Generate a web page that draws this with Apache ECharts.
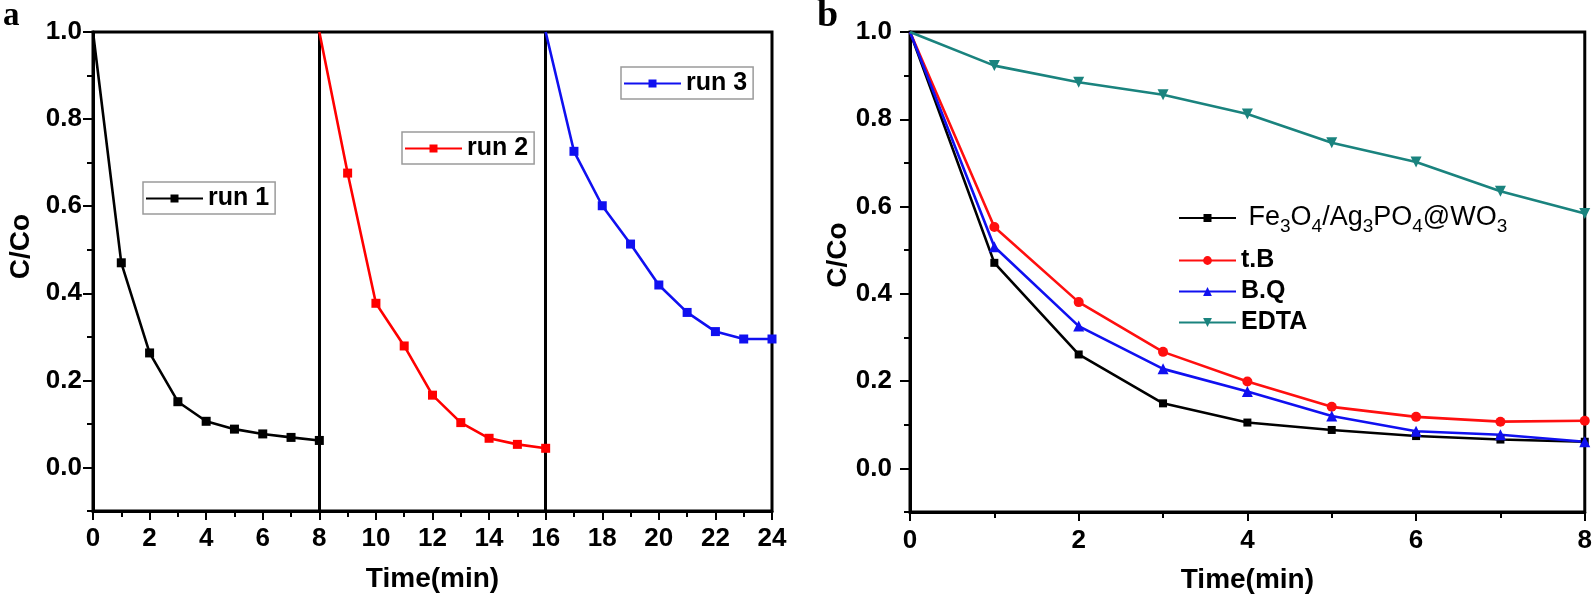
<!DOCTYPE html>
<html>
<head>
<meta charset="utf-8">
<script src="https://cdn.jsdelivr.net/npm/echarts@6/dist/echarts.min.js"></script>
<style>
  html, body { margin: 0; padding: 0; background: #fff; }
  #chart { width: 1595px; height: 602px; }
</style>
</head>
<body>
<div id="chart"></div>
<script>
// ---------- data (panel a: recycling runs) ----------
const run1Time = [0, 1, 2, 3, 4, 5, 6, 7, 8];
const run1 = [1.0, 0.470, 0.263, 0.151, 0.106, 0.088, 0.077, 0.069, 0.062];
const run2Time = [8, 9, 10, 11, 12, 13, 14, 15, 16];
const run2 = [1.0, 0.676, 0.377, 0.279, 0.166, 0.103, 0.067, 0.053, 0.044];
const run3Time = [16, 17, 18, 19, 20, 21, 22, 23, 24];
const run3 = [1.0, 0.726, 0.601, 0.513, 0.419, 0.356, 0.312, 0.295, 0.295];
const runBoundaries = [8, 16];

// ---------- data (panel b: scavengers) ----------
const timeB = [0, 1, 2, 3, 4, 5, 6, 7, 8];
const feAg = [1.0, 0.471, 0.261, 0.149, 0.105, 0.088, 0.074, 0.066, 0.061];
const tB   = [1.0, 0.553, 0.381, 0.267, 0.199, 0.141, 0.118, 0.107, 0.109];
const BQ   = [1.0, 0.508, 0.326, 0.228, 0.176, 0.120, 0.085, 0.077, 0.061];
const EDTA = [1.0, 0.923, 0.885, 0.856, 0.812, 0.746, 0.702, 0.635, 0.584];

// ---------- ticks ----------
const yMajor = [0, 0.2, 0.4, 0.6, 0.8, 1.0];
const yMinor = [-0.1, 0.1, 0.3, 0.5, 0.7, 0.9];

const FONT = 'Liberation Sans, Arial, sans-serif';
const pair = (xs, ys) => xs.map((x, i) => [x, ys[i]]);
const hideFirst = (size) => (v, p) => (p.dataIndex === 0 ? 0 : size);

function xAxisDef(gridIndex, max, interval, labelMargin) {
  return {
    gridIndex, type: 'value', min: 0, max, interval,
    name: 'Time(min)', nameLocation: 'middle', nameGap: 54,
    nameTextStyle: { fontFamily: FONT, fontWeight: 'bold', fontSize: 28, color: '#000' },
    axisLine: { show: true, onZero: false, lineStyle: { color: '#000', width: 3 } },
    axisTick: { show: true, length: 9, lineStyle: { color: '#000', width: 2 } },
    minorTick: { show: true, splitNumber: 2, length: 6, lineStyle: { color: '#000', width: 2 } },
    axisLabel: { fontFamily: FONT, fontWeight: 'bold', fontSize: 26, color: '#000', margin: labelMargin },
    splitLine: { show: false }, minorSplitLine: { show: false }
  };
}
function yAxisMain(gridIndex, labelMargin, namePad, nameGap) {
  return {
    gridIndex, type: 'value', min: -0.1, max: 1.0,
    name: 'C/Co', nameLocation: 'middle', nameGap,
    nameTextStyle: { fontFamily: FONT, fontWeight: 'bold', fontSize: 28, color: '#000', padding: [0, 0, 0, namePad] },
    axisLine: { show: true, onZero: false, lineStyle: { color: '#000', width: 3 } },
    axisTick: { show: true, length: 10, customValues: yMajor, lineStyle: { color: '#000', width: 2 } },
    axisLabel: { customValues: yMajor, fontFamily: FONT, fontWeight: 'bold', fontSize: 26, color: '#000', margin: labelMargin,
      formatter: v => v.toFixed(1) },
    splitLine: { show: false }
  };
}
function yAxisMinor(gridIndex) {
  return {
    gridIndex, type: 'value', min: -0.1, max: 1.0, position: 'left',
    axisLine: { show: false, onZero: false },
    axisTick: { show: true, length: 6, customValues: yMinor, lineStyle: { color: '#000', width: 2 } },
    axisLabel: { show: false },
    splitLine: { show: false }
  };
}

function runSeries(name, xs, ys, color, withBoundaries) {
  const s = {
    name, type: 'line', xAxisIndex: 0, yAxisIndex: 0,
    data: pair(xs, ys),
    symbol: 'rect', symbolSize: hideFirst(9),
    itemStyle: { color },
    lineStyle: { color, width: 2.6 },
    z: 5
  };
  if (withBoundaries) {
    s.markLine = {
      silent: true, symbol: ['none', 'none'], label: { show: false },
      lineStyle: { color: '#000', width: 3, type: 'solid' },
      data: runBoundaries.map(b => ({ xAxis: b }))
    };
  }
  return s;
}
function bSeries(name, ys, color, symbol, size, rotate) {
  return {
    name, type: 'line', xAxisIndex: 1, yAxisIndex: 2,
    data: pair(timeB, ys),
    symbol, symbolSize: hideFirst(size), symbolRotate: rotate || 0,
    itemStyle: { color },
    lineStyle: { color, width: 2.6 },
    z: 5
  };
}

const runLegendBase = {
  orient: 'horizontal', itemWidth: 57, itemHeight: 10,
  padding: [4, 6, 3, 2], borderColor: '#9a9a9a', borderWidth: 1.5,
  backgroundColor: '#fff',
  textStyle: { fontFamily: FONT, fontWeight: 'bold', fontSize: 25, color: '#000', lineHeight: 24 }
};

const chart = echarts.init(document.getElementById('chart'), null, { renderer: 'canvas' });
chart.setOption({
  animation: false,
  backgroundColor: '#fff',
  grid: [
    { left: 93, top: 32, width: 679, height: 479, show: true, borderColor: '#000', borderWidth: 3, backgroundColor: 'transparent' },
    { left: 910, top: 32, width: 677, height: 480, show: true, borderColor: '#000', borderWidth: 3, backgroundColor: 'transparent' }
  ],
  xAxis: [xAxisDef(0, 24, 2, 15), xAxisDef(1, 8, 2, 16)],
  yAxis: [yAxisMain(0, 11, 50, 58), yAxisMinor(0), yAxisMain(1, 18, 34, 58), yAxisMinor(1)],
  legend: [
    Object.assign({}, runLegendBase, { left: 143, top: 182, data: ['run 1'] }),
    Object.assign({}, runLegendBase, { left: 402, top: 132, data: ['run 2'] }),
    Object.assign({}, runLegendBase, { left: 621, top: 67, data: ['run 3'] }),
    {
      orient: 'vertical', left: 1178, top: 204, itemWidth: 57, itemHeight: 10, padding: 0,
      data: ['Fe3O4/Ag3PO4@WO3'],
      formatter: () => '{n| Fe}{s|3}{n|O}{s|4}{n|/Ag}{s|3}{n|PO}{s|4}{n|@WO}{s|3}',
      textStyle: {
        fontFamily: FONT, color: '#000',
        rich: {
          n: { fontFamily: FONT, fontSize: 27, lineHeight: 28, verticalAlign: 'top', color: '#000' },
          s: { fontFamily: FONT, fontSize: 19, lineHeight: 19, padding: [13, 0, 0, 0], verticalAlign: 'top', color: '#000' }
        }
      }
    },
    {
      orient: 'vertical', left: 1178, top: 248, itemWidth: 57, itemHeight: 11, itemGap: 6, padding: 0,
      data: ['t.B', 'B.Q', 'EDTA'],
      textStyle: { fontFamily: FONT, fontWeight: 'bold', fontSize: 25, lineHeight: 25, color: '#000' }
    }
  ],
  graphic: [
    { type: 'text', left: 3, top: 0, style: { text: 'a', font: 'bold 33px "Liberation Serif", serif', fill: '#000' } },
    { type: 'text', left: 817, top: -3, style: { text: 'b', font: 'bold 38px "Liberation Serif", serif', fill: '#000' } }
  ],
  series: [
    runSeries('run 1', run1Time, run1, '#000000', true),
    runSeries('run 2', run2Time, run2, '#ff0000', false),
    runSeries('run 3', run3Time, run3, '#1010f0', false),
    bSeries('Fe3O4/Ag3PO4@WO3', feAg, '#000000', 'rect', 8),
    bSeries('t.B', tB, '#ff0f0f', 'circle', 10),
    bSeries('B.Q', BQ, '#1010f0', 'triangle', 11),
    bSeries('EDTA', EDTA, '#1a837e', 'triangle', 11, 180)
  ]
});
</script>
</body>
</html>
